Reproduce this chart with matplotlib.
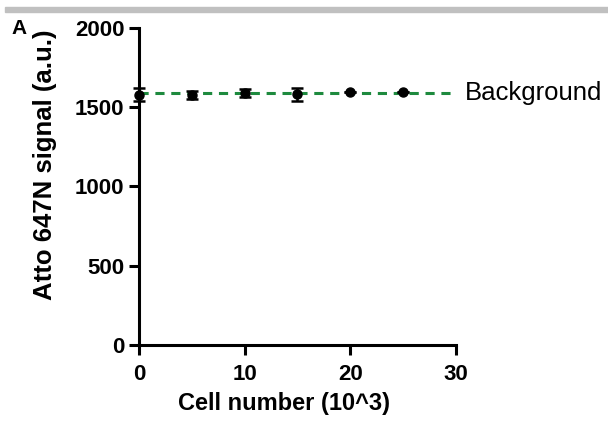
import matplotlib
matplotlib.use('agg')
import matplotlib.pyplot as plt
from matplotlib.patches import Rectangle

# data
cells = [0, 5, 10, 15, 20, 25]
signal = [1580, 1577, 1588, 1581, 1596, 1598]
sd = [40, 25, 25, 42, 0, 0]
background = 1590

plt.rcParams['font.family'] = ['Liberation Sans', 'DejaVu Sans']

fig = plt.figure(figsize=(6.08, 4.28), dpi=100)
ax = fig.add_axes([0.2286, 0.194, 0.5214, 0.7406])

# grey border strip at the top
fig.patches.append(Rectangle((5 / 608, 1 - 12 / 428), 1, 5 / 428,
                             transform=fig.transFigure, color='#c0c0c0', zorder=0))

ax.plot([0, 30], [background, background], ls=(0, (3, 2.2)), color='#1e8a3e', lw=2.2,
        clip_on=False, zorder=2)
ax.errorbar(cells, signal, yerr=sd, fmt='o', color='black', ms=6.5, capsize=4,
            elinewidth=1.8, capthick=1.8, clip_on=False, zorder=3)
ax.text(30.8, background, 'Background', fontsize=18.5, va='center', ha='left')

ax.set_xlim(0, 30)
ax.set_ylim(0, 2000)
ax.set_xticks([0, 10, 20, 30])
ax.set_yticks([0, 500, 1000, 1500, 2000])
for s in ['top', 'right']:
    ax.spines[s].set_visible(False)
for s in ['left', 'bottom']:
    ax.spines[s].set_linewidth(2.2)
ax.tick_params(width=2.2, length=7.5, labelsize=16)
ax.tick_params(axis='x', pad=6)
ax.tick_params(axis='y', pad=3)
for lab in ax.get_xticklabels() + ax.get_yticklabels():
    lab.set_fontweight('bold')

ax.set_xlabel('Cell number (10^3)', fontsize=17, fontweight='bold')
ax.set_ylabel('Atto 647N signal (a.u.)', fontsize=18.5, fontweight='bold')
ax.xaxis.set_label_coords(0.457, -0.148)
ax.yaxis.set_label_coords(-0.259, 0.568)
fig.text(11 / 608, 1 - 34 / 428, 'A', fontsize=15, fontweight='bold')

fig.savefig('out.png', dpi=100)
